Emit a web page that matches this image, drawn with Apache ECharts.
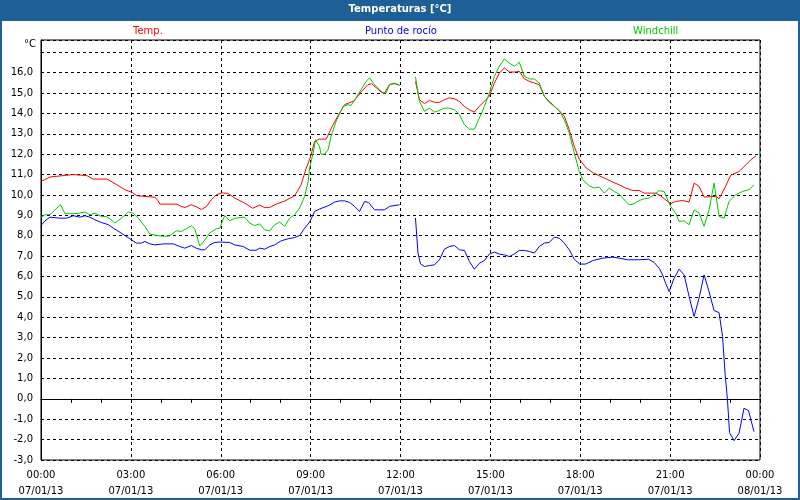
<!DOCTYPE html>
<html>
<head>
<meta charset="utf-8">
<script src="https://cdn.jsdelivr.net/npm/echarts@6/dist/echarts.min.js"></script>
<style>html,body{margin:0;padding:0;background:#fff}#c{width:800px;height:500px}</style>
</head>
<body>
<div id="c"></div>
<script>
// Time ticks (every 3 h) with their date line
var xTickTimes = ["00:00","03:00","06:00","09:00","12:00","15:00","18:00","21:00","00:00"];
var xTickDates = ["07/01/13","07/01/13","07/01/13","07/01/13","07/01/13","07/01/13","07/01/13","07/01/13","08/01/13"];
var seriesNames = ["Temp.", "Punto de rocío", "Windchill"];

// [time, value]; null = gap in the record
var tempData = [
["00:00",10.66],["00:18",10.88],["01:04",11.0],["01:32",10.95],["01:44",10.78],["02:12",10.78],["02:32",10.5],["02:48",10.26],
["03:02",10.13],["03:12",9.96],["03:48",9.89],["03:54",9.73],["03:58",9.55],["04:32",9.55],["04:38",9.47],["04:48",9.38],
["05:01",9.52],["05:11",9.42],["05:21",9.29],["05:31",9.42],["05:41",9.76],["05:51",10.0],["06:02",10.1],["06:14",10.08],
["06:28",9.85],["06:48",9.6],["07:04",9.35],["07:18",9.5],["07:28",9.38],["07:38",9.38],["07:51",9.55],["08:08",9.7],
["08:28",9.96],["08:41",10.5],["08:51",11.3],["08:59",11.81],["09:08",12.63],["09:18",12.74],["09:31",12.74],["09:45",13.45],
["09:58",14.02],["10:08",14.43],["10:25",14.59],["10:32",14.76],["10:42",15.08],["10:55",15.41],["11:02",15.46],["11:12",15.25],
["11:22",15.03],["11:28",15.0],["11:38",15.41],["11:48",15.46],["11:58",15.38],["12:15",null],
["12:30",15.57],["12:38",14.67],["12:48",14.48],["12:58",14.64],["13:08",14.54],["13:18",14.54],["13:28",14.67],["13:38",14.76],
["13:48",14.72],["13:58",14.59],["14:08",14.34],["14:18",14.18],["14:28",14.06],["14:38",14.35],["14:48",14.59],["14:58",14.84],
["15:08",15.49],["15:18",15.98],["15:28",16.23],["15:38",16.03],["15:48",16.03],["15:58",16.06],["16:08",15.7],["16:18",15.57],
["16:28",15.49],["16:38",15.41],["16:48",14.84],["16:58",14.59],["17:08",14.35],["17:18",14.13],["17:28",13.86],["17:38",13.2],
["17:48",12.38],["17:58",11.75],["18:12",11.32],["18:25",11.1],["18:38",10.94],["18:51",10.8],["19:05",10.63],["19:18",10.5],
["19:31",10.34],["19:45",10.22],["19:58",10.22],["20:08",10.09],["20:31",10.09],["20:41",9.96],["20:51",9.76],["21:01",9.57],
["21:11",9.68],["21:25",9.73],["21:38",9.65],["21:48",10.58],["21:58",10.42],["22:08",9.9],["22:32",9.93],["22:38",9.81],
["22:51",10.42],["23:01",10.96],["23:18",11.15],["23:32",11.48],["23:42",11.73],["23:52",11.92]
];

var dewData = [
["00:00",8.5],["00:08",8.73],["00:18",8.91],["00:38",8.86],["00:51",8.86],["01:05",8.98],["01:18",8.91],["01:28",8.98],
["01:38",8.91],["01:48",8.78],["02:01",8.65],["02:15",8.54],["02:25",8.37],["02:38",8.17],["02:48",8.01],["02:58",7.85],
["03:11",7.64],["03:21",7.64],["03:28",7.72],["03:38",7.6],["03:48",7.55],["04:05",7.6],["04:25",7.6],["04:38",7.47],
["04:48",7.39],["05:01",7.52],["05:11",7.39],["05:21",7.31],["05:28",7.31],["05:38",7.55],["05:48",7.67],["05:58",7.69],
["06:18",7.67],["06:28",7.55],["06:45",7.47],["06:58",7.29],["07:11",7.29],["07:18",7.39],["07:28",7.34],["07:38",7.47],
["07:48",7.55],["08:01",7.75],["08:15",7.85],["08:28",7.91],["08:38",8.01],["08:48",8.37],["08:58",8.67],["09:08",9.19],
["09:18",9.31],["09:35",9.47],["09:48",9.65],["09:58",9.71],["10:08",9.71],["10:18",9.63],["10:28",9.44],["10:38",9.19],
["10:48",9.68],["10:56",9.63],["11:08",9.27],["11:28",9.27],["11:38",9.44],["11:58",9.52],["12:15",null],
["12:30",8.87],["12:35",7.15],["12:40",6.62],["12:48",6.49],["12:58",6.54],["13:08",6.57],["13:18",6.82],["13:28",7.34],
["13:38",7.47],["13:48",7.52],["13:58",7.31],["14:08",7.28],["14:18",6.74],["14:28",6.36],["14:38",6.65],["14:48",6.78],
["14:58",7.1],["15:08",7.2],["15:18",7.1],["15:28",7.06],["15:38",6.98],["15:48",7.11],["15:58",7.28],["16:08",7.28],
["16:18",7.23],["16:28",7.15],["16:38",7.47],["16:48",7.64],["16:58",7.67],["17:08",7.93],["17:18",7.88],["17:28",7.64],
["17:38",7.31],["17:48",6.85],["17:59",6.61],["18:11",6.61],["18:25",6.78],["18:45",6.9],["19:05",6.95],["19:18",6.9],
["19:35",6.82],["19:58",6.82],["20:17",6.85],["20:28",6.69],["20:38",6.41],["20:45",6.08],["20:51",5.67],["20:58",5.26],
["21:08",5.92],["21:18",6.36],["21:28",6.08],["21:38",5.02],["21:48",4.04],["21:58",4.94],["22:08",6.08],["22:18",5.26],
["22:28",4.33],["22:38",4.23],["22:45",3.05],["22:50",1.26],["22:55",-0.1],["22:59",-1.66],["23:08",-2.05],["23:18",-1.69],
["23:28",-0.46],["23:37",-0.58],["23:48",-1.61]
];

var chillData = [
["00:00",8.9],["00:08",9.03],["00:18",9.03],["00:28",9.27],["00:39",9.52],["00:48",9.08],["01:05",9.08],["01:18",9.11],
["01:28",9.16],["01:38",9.03],["01:48",9.11],["02:01",8.94],["02:11",8.94],["02:18",8.83],["02:28",8.62],["02:41",8.86],
["02:55",9.16],["03:05",9.11],["03:15",8.86],["03:28",8.46],["03:38",8.08],["03:55",8.0],["04:08",7.97],["04:18",8.0],
["04:31",8.24],["04:41",8.21],["04:51",8.34],["05:01",8.49],["05:08",8.34],["05:18",7.5],["05:25",7.69],["05:38",8.13],
["05:51",8.34],["05:58",8.37],["06:08",8.99],["06:18",8.73],["06:28",8.86],["06:48",8.91],["06:58",8.62],["07:08",8.5],
["07:18",8.58],["07:28",8.29],["07:38",8.24],["07:48",8.54],["07:58",8.67],["08:08",8.46],["08:18",8.86],["08:28",9.03],
["08:38",9.36],["08:48",9.93],["08:55",10.66],["08:58",11.32],["09:05",12.06],["09:10",12.71],["09:18",12.35],["09:21",12.0],
["09:28",12.0],["09:35",12.22],["09:41",12.87],["09:51",13.61],["10:05",14.34],["10:15",14.43],["10:21",14.39],["10:31",14.76],
["10:41",15.16],["10:51",15.57],["10:58",15.74],["11:08",15.41],["11:18",15.16],["11:25",15.0],["11:31",15.0],["11:38",15.41],
["11:48",15.49],["11:58",15.38],["12:15",null],
["12:30",15.79],["12:38",14.59],["12:48",14.1],["12:58",14.26],["13:08",14.06],["13:18",14.15],["13:28",14.26],["13:38",14.26],
["13:48",14.18],["13:58",13.94],["14:08",13.45],["14:18",13.23],["14:28",13.23],["14:38",13.77],["14:48",14.34],["14:58",15.0],
["15:08",15.82],["15:18",16.31],["15:28",16.67],["15:38",16.47],["15:48",16.31],["15:58",16.51],["16:08",15.82],["16:18",15.69],
["16:28",15.69],["16:38",15.49],["16:48",14.84],["16:58",14.54],["17:08",14.34],["17:18",14.13],["17:28",13.69],["17:38",13.04],
["17:48",12.06],["17:58",11.15],["18:05",10.75],["18:18",10.45],["18:28",10.34],["18:38",10.39],["18:48",10.09],["18:58",10.34],
["19:08",10.17],["19:18",10.04],["19:28",9.76],["19:38",9.52],["19:48",9.57],["19:58",9.73],["20:08",9.81],["20:18",9.85],
["20:28",10.01],["20:38",10.21],["20:48",10.17],["20:55",9.76],["21:01",9.44],["21:11",9.11],["21:18",8.7],["21:28",8.73],
["21:38",8.54],["21:48",9.27],["21:58",9.11],["22:08",8.46],["22:18",9.27],["22:28",10.58],["22:38",8.95],["22:48",8.86],
["22:58",9.68],["23:11",10.01],["23:25",10.17],["23:38",10.26],["23:48",10.5]
];

function toMin(t){var p=t.split(':');return (+p[0])*60+(+p[1]);}
function build(arr){return arr.map(function(d){return [toMin(d[0]), d[1]===null?'-':d[1]];});}

var FONT = 'DejaVu Sans';
var FRAME = '#1E5F97';
var chart = echarts.init(document.getElementById('c'), null, {renderer:'canvas'});
chart.setOption({
  animation:false,
  backgroundColor:'#ffffff',
  textStyle:{fontFamily:FONT},
  title:{text:'Temperaturas [°C]', left:'center', top:4, padding:0,
    textStyle:{color:'#ffffff', fontSize:10, fontWeight:'bold', fontFamily:FONT}},
  graphic:[
    {type:'rect', z:-10, shape:{x:0,y:0,width:800,height:21}, style:{fill:FRAME}},
    {type:'rect', z:-10, shape:{x:1,y:1,width:798,height:498}, style:{fill:'none', stroke:FRAME, lineWidth:2}},
    {type:'text', left:24, top:39, style:{text:'°C', fill:'#000', font:'10px "DejaVu Sans"'}}
  ],
  legend:[
    {data:[{name:seriesNames[0], textStyle:{color:'#ff0000'}}], left:127, top:26, padding:0, itemWidth:0, itemHeight:0, itemGap:0, selectedMode:false, textStyle:{fontSize:10, fontFamily:FONT}},
    {data:[{name:seriesNames[1], textStyle:{color:'#0000ff'}}], left:359, top:26, padding:0, itemWidth:0, itemHeight:0, itemGap:0, selectedMode:false, textStyle:{fontSize:10, fontFamily:FONT}},
    {data:[{name:seriesNames[2], textStyle:{color:'#00c800'}}], left:627, top:26, padding:0, itemWidth:0, itemHeight:0, itemGap:0, selectedMode:false, textStyle:{fontSize:10, fontFamily:FONT}}
  ],
  grid:{left:41, right:40, top:40, bottom:40, show:true, borderColor:'#000', borderWidth:1, backgroundColor:'#fff'},
  xAxis:{type:'value', min:0, max:1440, interval:180,
    axisLine:{show:true, lineStyle:{color:'#000', width:1}},
    axisTick:{show:true, length:4, lineStyle:{color:'#000'}},
    minorTick:{show:true, splitNumber:3, length:4, lineStyle:{color:'#000'}},
    splitLine:{show:true, lineStyle:{color:'#000', type:[3,3], width:1}},
    axisLabel:{color:'#000', fontSize:10, fontFamily:FONT, margin:7, lineHeight:16,
      formatter:function(v){var i=Math.round(v/180); return xTickTimes[i]+'\n'+xTickDates[i];}}
  },
  yAxis:{type:'value', min:-3, max:17.6, interval:1,
    axisLine:{show:true, lineStyle:{color:'#000', width:1}},
    axisTick:{show:false},
    splitLine:{show:true, lineStyle:{color:'#000', type:[3,3], width:1}},
    axisLabel:{color:'#000', fontSize:10, fontFamily:FONT, margin:8, showMaxLabel:false,
      formatter:function(v){ if(v>16.5) return ''; return v.toFixed(1).replace('.',','); }}
  },
  series:[
    {name:seriesNames[0], type:'line', data:build(tempData), showSymbol:false, connectNulls:false, itemStyle:{color:'#ff0000'}, lineStyle:{color:'#ff0000', width:1}, z:3},
    {name:seriesNames[1], type:'line', data:build(dewData), showSymbol:false, connectNulls:false, itemStyle:{color:'#0000ff'}, lineStyle:{color:'#0000ff', width:1}, z:3},
    {name:seriesNames[2], type:'line', data:build(chillData), showSymbol:false, connectNulls:false, itemStyle:{color:'#00c800'}, lineStyle:{color:'#00c800', width:1}, z:3}
  ]
});
</script>
</body>
</html>
